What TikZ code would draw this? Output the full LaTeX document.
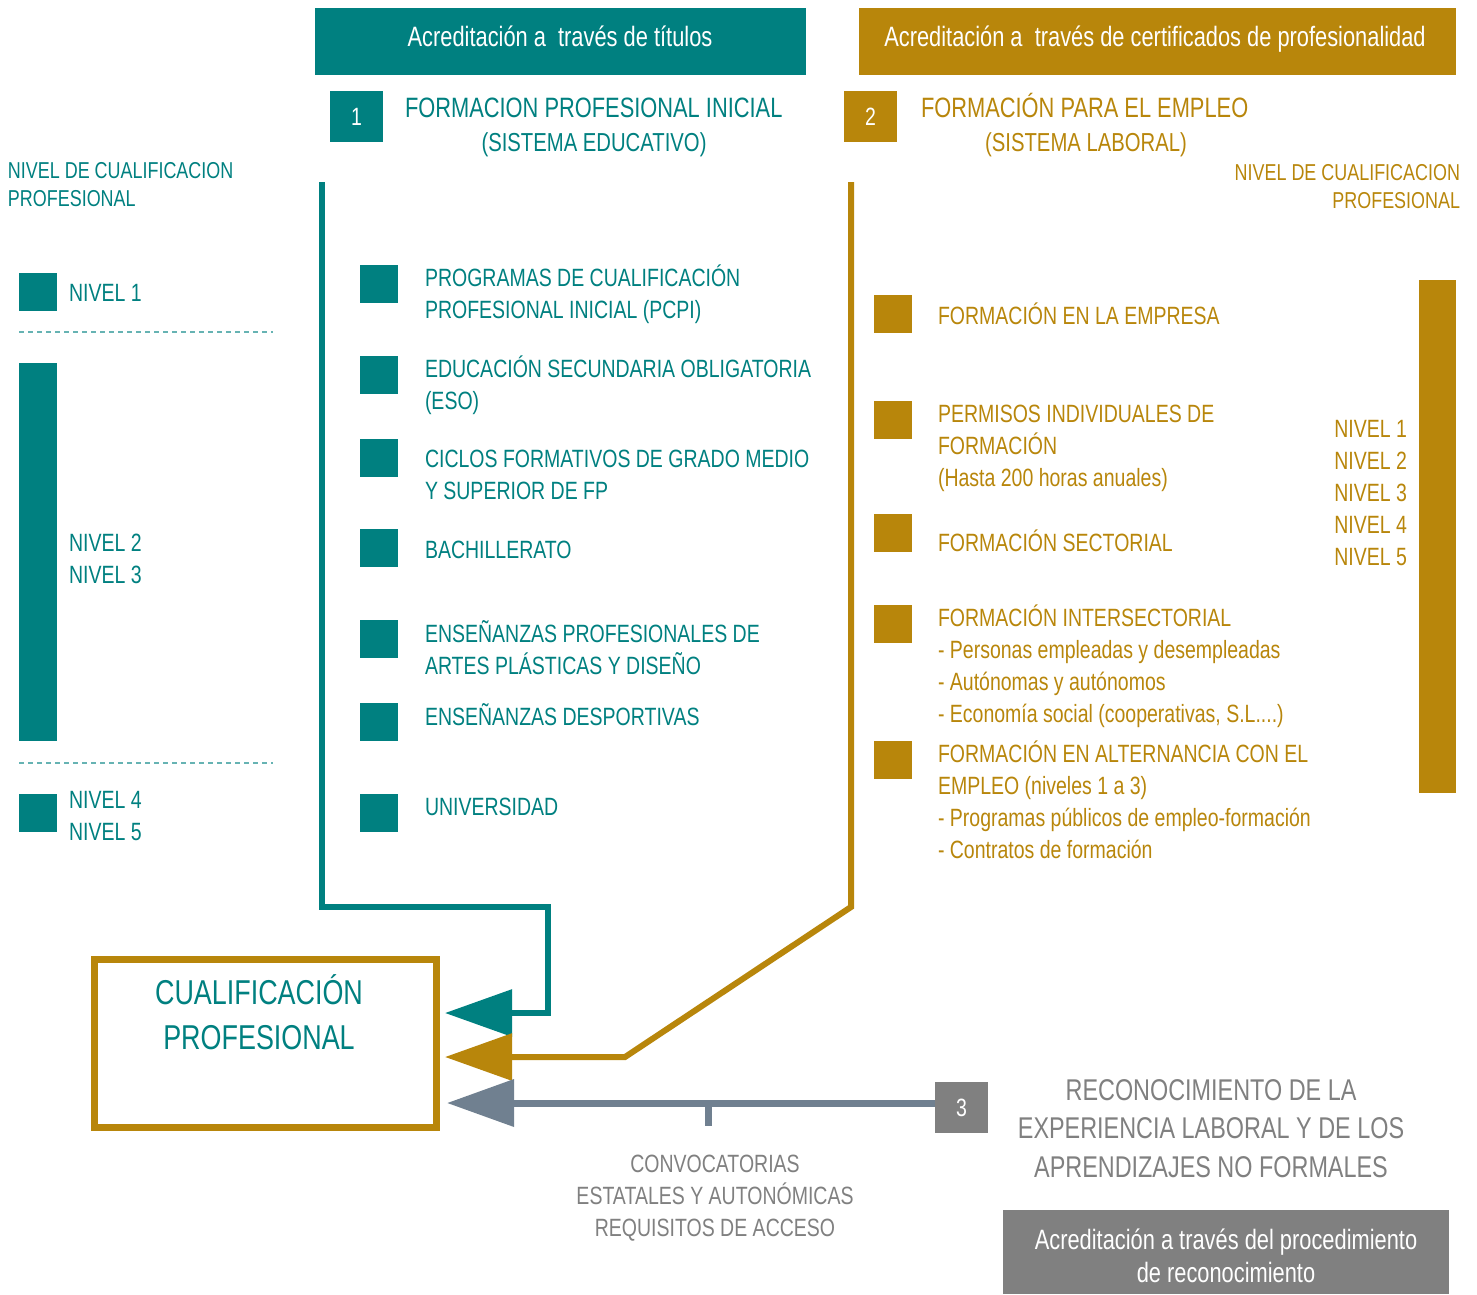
\documentclass[tikz,border=0pt]{standalone}
\usepackage{fontspec}
\setmainfont{Liberation Sans}[FakeStretch=0.78]
\usetikzlibrary{arrows.meta}
\definecolor{cteal}{HTML}{008080}
\definecolor{cgold}{HTML}{B8860B}
\definecolor{cslate}{HTML}{708090}
\definecolor{cgray}{HTML}{808080}
\definecolor{cdash}{HTML}{66B3B3}
\begin{document}
\begin{tikzpicture}[x=1pt,y=-1pt,
  txt/.style={inner sep=0pt, outer sep=0pt, font=\fontsize{25}{32}\selectfont, align=left},
  hd/.style={inner sep=0pt, outer sep=0pt, font=\fontsize{28}{34}\selectfont},
  sub/.style={inner sep=0pt, outer sep=0pt, font=\fontsize{26}{32}\selectfont},
  lvl/.style={inner sep=0pt, outer sep=0pt, font=\fontsize{23}{28}\selectfont},
  sq/.style={minimum size=38pt, inner sep=0pt, outer sep=0pt, anchor=north west},
  numbox/.style={minimum width=53pt, minimum height=51pt, inner sep=0pt, outer sep=0pt, anchor=north west, text=white, font=\fontsize{25}{30}\selectfont},
  band/.style={inner sep=0pt, outer sep=0pt, anchor=north west},
  conn/.style={line width=6pt},
  tipA/.style={-{Triangle[length=67pt,width=46pt]}}]
\useasboundingbox (0,0) rectangle (1477,1294);

% header bands
\node[band, fill=cteal, minimum width=491pt, minimum height=67pt] (hb1) at (315,8) {};
\node[hd, text=white, anchor=base] (ht1) at (560,46) {Acreditación a\ \ través de títulos};
\node[band, fill=cgold, minimum width=597pt, minimum height=67pt] (hb2) at (859,8) {};
\node[hd, text=white, anchor=base] (ht2) at (1155,46) {Acreditación a\ \ través de certificados de profesionalidad};

% section titles
\node[numbox, fill=cteal] (n1) at (330,91) {1};
\node[hd, text=cteal, anchor=base west] (t1) at (405,117) {FORMACION PROFESIONAL INICIAL};
\node[sub, text=cteal, anchor=base] (t1b) at (594,151) {(SISTEMA EDUCATIVO)};
\node[numbox, fill=cgold] (n2) at (844,91) {2};
\node[hd, text=cgold, anchor=base west] (t2) at (921,117) {FORMACIÓN PARA EL EMPLEO};
\node[sub, text=cgold, anchor=base] (t2b) at (1086,151) {(SISTEMA LABORAL)};

% level headings
\node[lvl, text=cteal, anchor=base west, align=left] (lh1) at (8,206) {NIVEL DE CUALIFICACION\\PROFESIONAL};
\node[lvl, text=cgold, anchor=base east, align=right] (lh2) at (1460,208) {NIVEL DE CUALIFICACION\\PROFESIONAL};

% left level column
\node[sq, fill=cteal] (l1) at (19,273) {};
\node[txt, text=cteal, anchor=base west] (l1t) at (69,301) {NIVEL 1};
\coordinate (d1a) at (19,332); \coordinate (d1b) at (273,332);
\draw[cdash, line width=1.6pt, dash pattern=on 5pt off 4pt] (d1a) -- (d1b);
\node[band, fill=cteal, minimum width=38pt, minimum height=378pt] (l2) at (19,363) {};
\node[txt, text=cteal, anchor=base west] (l2t) at (69,583) {NIVEL 2\\NIVEL 3};
\coordinate (d2a) at (19,763); \coordinate (d2b) at (273,763);
\draw[cdash, line width=1.6pt, dash pattern=on 5pt off 4pt] (d2a) -- (d2b);
\node[sq, fill=cteal] (l3) at (19,794) {};
\node[txt, text=cteal, anchor=base west] (l3t) at (69,840) {NIVEL 4\\NIVEL 5};

% middle column
\node[sq, fill=cteal] (s1) at (360,265) {};
\node[txt, text=cteal, anchor=base west] (e1) at (425,318) {PROGRAMAS DE CUALIFICACIÓN\\PROFESIONAL INICIAL (PCPI)};
\node[sq, fill=cteal] (s2) at (360,356) {};
\node[txt, text=cteal, anchor=base west] (e2) at (425,409) {EDUCACIÓN SECUNDARIA OBLIGATORIA\\(ESO)};
\node[sq, fill=cteal] (s3) at (360,439) {};
\node[txt, text=cteal, anchor=base west] (e3) at (425,499) {CICLOS FORMATIVOS DE GRADO MEDIO\\Y SUPERIOR DE FP};
\node[sq, fill=cteal] (s4) at (360,529) {};
\node[txt, text=cteal, anchor=base west] (e4) at (425,558) {BACHILLERATO};
\node[sq, fill=cteal] (s5) at (360,620) {};
\node[txt, text=cteal, anchor=base west] (e5) at (425,674) {ENSEÑANZAS PROFESIONALES DE\\ARTES PLÁSTICAS Y DISEÑO};
\node[sq, fill=cteal] (s6) at (360,703) {};
\node[txt, text=cteal, anchor=base west] (e6) at (425,725) {ENSEÑANZAS DESPORTIVAS};
\node[sq, fill=cteal] (s7) at (360,794) {};
\node[txt, text=cteal, anchor=base west] (e7) at (425,815) {UNIVERSIDAD};

% right column
\node[sq, fill=cgold] (g1) at (874,295) {};
\node[txt, text=cgold, anchor=base west] (f1) at (938,324) {FORMACIÓN EN LA EMPRESA};
\node[sq, fill=cgold] (g2) at (874,401) {};
\node[txt, text=cgold, anchor=base west] (f2) at (938,486) {PERMISOS INDIVIDUALES DE\\FORMACIÓN\\(Hasta 200 horas anuales)};
\node[sq, fill=cgold] (g3) at (874,514) {};
\node[txt, text=cgold, anchor=base west] (f3) at (938,551) {FORMACIÓN SECTORIAL};
\node[sq, fill=cgold] (g4) at (874,605) {};
\node[txt, text=cgold, anchor=base west] (f4) at (938,722) {FORMACIÓN INTERSECTORIAL\\- Personas empleadas y desempleadas\\- Autónomas y autónomos\\- Economía social (cooperativas, S.L....)};
\node[sq, fill=cgold] (g5) at (874,741) {};
\node[txt, text=cgold, anchor=base west] (f5) at (938,858) {FORMACIÓN EN ALTERNANCIA CON EL\\EMPLEO (niveles 1 a 3)\\- Programas públicos de empleo-formación\\- Contratos de formación};

% right level bar
\node[band, fill=cgold, minimum width=37pt, minimum height=513pt] (rb) at (1419,280) {};
\node[txt, text=cgold, anchor=base east, align=right] (rbt) at (1407,565) {NIVEL 1\\NIVEL 2\\NIVEL 3\\NIVEL 4\\NIVEL 5};

% result box
\node[draw=cgold, line width=7pt, minimum width=342pt, minimum height=168pt, inner sep=0pt, anchor=north west] (cp) at (90.5,955.5) {};
\node[inner sep=0pt, text=cteal, font=\fontsize{34.5}{45}\selectfont, align=center, anchor=base] (cpt) at (259,1049) {CUALIFICACIÓN\\PROFESIONAL};

% connectors
\coordinate (tt) at (322,182);
\coordinate (ta) at (445,1013);
\draw[conn, cteal, tipA] (tt) -- (322,907) -- (548,907) -- (548,1013) -- (ta);
\coordinate (gt) at (851,182);
\coordinate (ga) at (445,1057);
\draw[conn, cgold, tipA] (gt) -- (851,907) -- (625,1057) -- (ga);

% recognition
\node[numbox, fill=cgray] (n3) at (935,1082) {3};
\coordinate (rs) at (935,1103);
\coordinate (ra) at (447,1103);
\draw[conn, line width=7pt, cslate, tipA] (rs) -- (ra);
\coordinate (tk1) at (708,1100);
\coordinate (tk2) at (708,1126);
\draw[cslate, line width=7pt] (tk1) -- (tk2);
\node[inner sep=0pt, text=cgray, font=\fontsize{30}{38.5}\selectfont, align=center, anchor=base] (rt) at (1211,1177) {RECONOCIMIENTO DE LA\\EXPERIENCIA LABORAL Y DE LOS\\APRENDIZAJES NO FORMALES};
\node[txt, text=cgray, align=center, anchor=base] (cv) at (715,1236) {CONVOCATORIAS\\ESTATALES Y AUTONÓMICAS\\REQUISITOS DE ACCESO};
\node[band, fill=cgray, minimum width=446pt, minimum height=84pt] (gb) at (1003,1210) {};
\node[inner sep=0pt, text=white, font=\fontsize{28}{33}\selectfont, align=center, anchor=base] (gbt) at (1226,1282) {Acreditación a través del procedimiento\\de reconocimiento};
\end{tikzpicture}
\end{document}
